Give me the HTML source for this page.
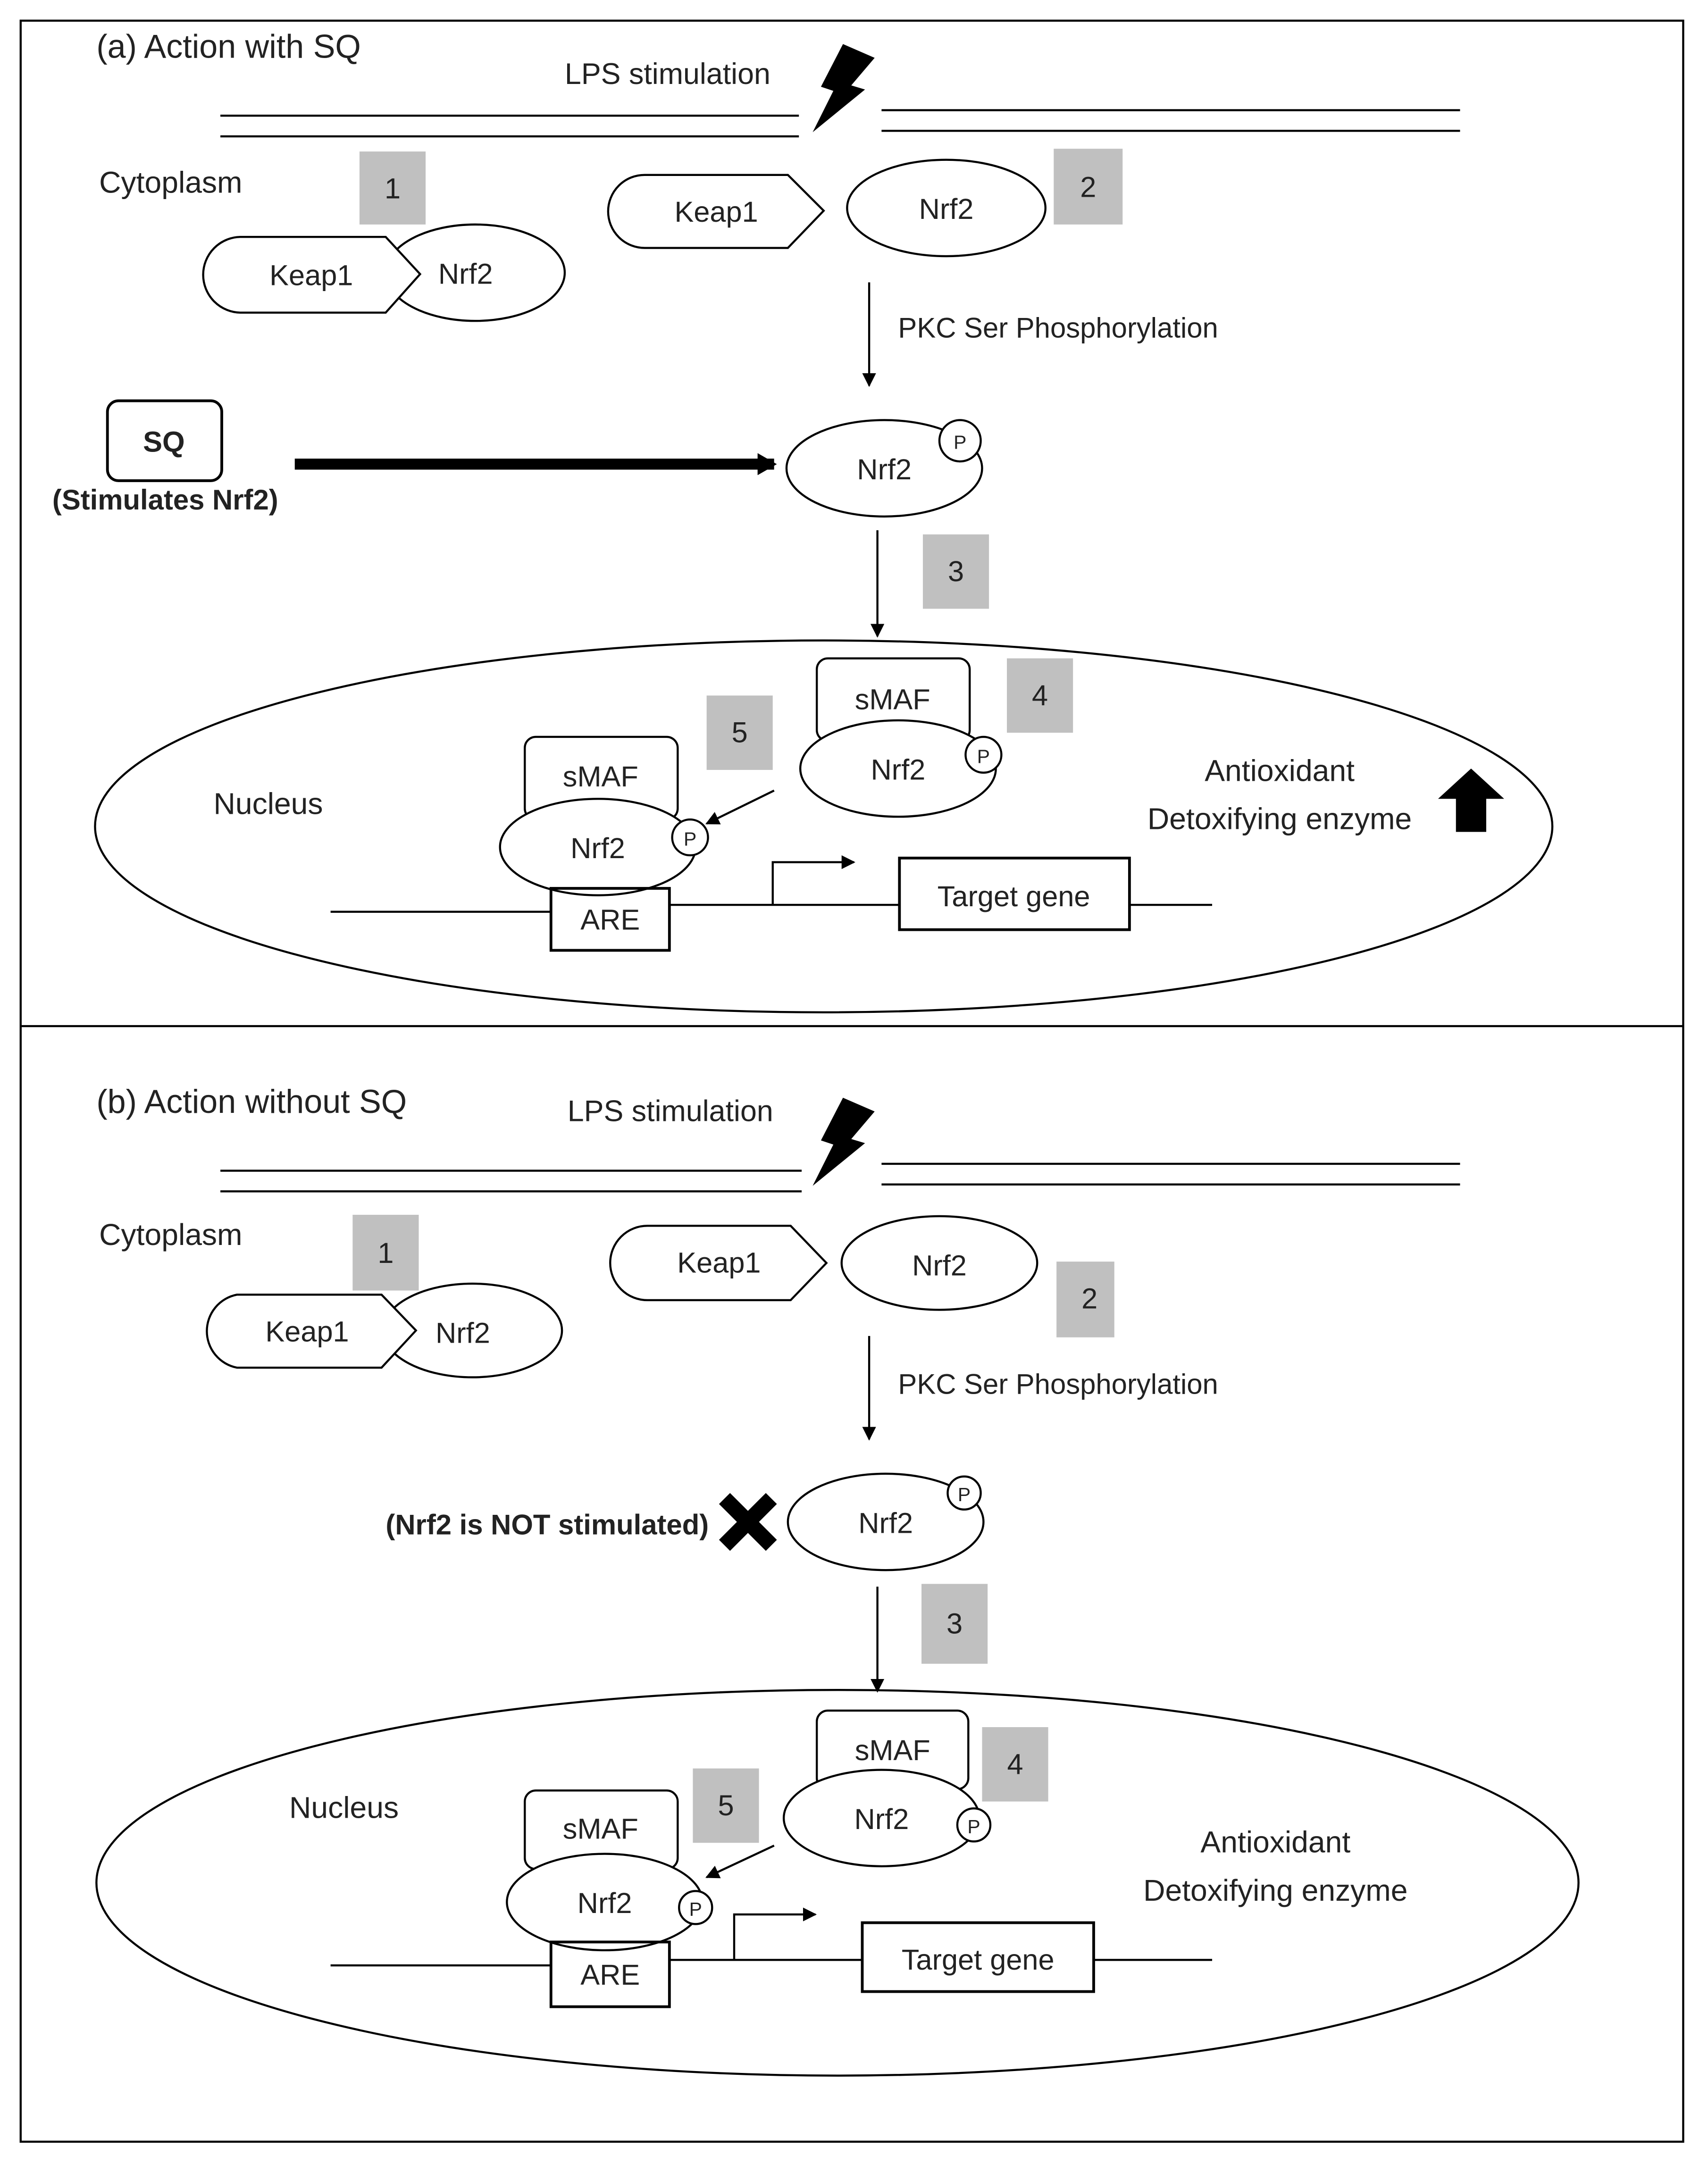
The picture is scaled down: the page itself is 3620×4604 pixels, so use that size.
<!DOCTYPE html>
<html><head><meta charset="utf-8"><style>
html,body{margin:0;padding:0;background:#fff}
svg{display:block}
text{font-family:"Liberation Sans",sans-serif;fill:#222}
</style></head><body>
<svg width="3620" height="4604" viewBox="0 0 1240 1577" preserveAspectRatio="none" xmlns="http://www.w3.org/2000/svg">
<defs>
<marker id="ah" markerWidth="10" markerHeight="10" refX="9" refY="5" orient="auto" markerUnits="userSpaceOnUse"><path d="M0,0 L10,5 L0,10 z" fill="#000"/></marker>
<marker id="ahb" markerWidth="14" markerHeight="16" refX="12" refY="8" orient="auto" markerUnits="userSpaceOnUse"><path d="M0,0 L14,8 L0,16 z" fill="#000"/></marker>
</defs>
<rect width="1240" height="1577" fill="#fff"/>
<rect x="15" y="15" width="1207" height="1540" fill="none" stroke="#000" stroke-width="1.5"/>
<line x1="15" y1="745" x2="1222" y2="745" stroke="#000" stroke-width="1.5"/>
<g fill="none" stroke="#000" stroke-width="1.5">
<line x1="160" y1="84" x2="580" y2="84"/><line x1="160" y1="99" x2="580" y2="99"/>
<line x1="640" y1="80" x2="1060" y2="80"/><line x1="640" y1="95" x2="1060" y2="95"/>
<ellipse cx="345" cy="198" rx="65" ry="35" fill="#fff"/>
<path d="M175,172 L280,172 L305,199 L280,227 L175,227 A27,27 0 0 1 175,172 z" fill="#fff"/>
<path d="M468,127 L572,127 L598,153 L572,180 L468,180 A26,26 0 0 1 468,127 z" fill="#fff"/>
<ellipse cx="687" cy="151" rx="72" ry="35" fill="#fff"/>
<line x1="631" y1="205" x2="631" y2="280" marker-end="url(#ah)"/>
<rect x="78" y="291" width="83" height="58" rx="8" stroke-width="2"/>
<line x1="214" y1="337" x2="562" y2="337" stroke-width="8" marker-end="url(#ahb)"/>
<ellipse cx="642" cy="340" rx="71" ry="35" fill="#fff"/>
<circle cx="697" cy="320" r="15" fill="#fff"/>
<line x1="637" y1="385" x2="637" y2="462" marker-end="url(#ah)"/>
<ellipse cx="598" cy="600" rx="529" ry="135"/>
<rect x="593" y="478" width="111" height="60" rx="8" fill="#fff"/>
<ellipse cx="652" cy="558" rx="71" ry="35" fill="#fff"/>
<circle cx="714" cy="548" r="13" fill="#fff"/>
<rect x="381" y="535" width="111" height="60" rx="8" fill="#fff"/>
<ellipse cx="434" cy="615" rx="71" ry="35" fill="#fff"/>
<circle cx="501" cy="608" r="13" fill="#fff"/>
<line x1="562" y1="574" x2="513" y2="598" marker-end="url(#ah)"/>
<line x1="240" y1="662" x2="400" y2="662"/>
<rect x="400" y="645" width="86" height="45" stroke-width="2"/>
<line x1="486" y1="657" x2="653" y2="657"/>
<rect x="653" y="623" width="167" height="52" stroke-width="2"/>
<line x1="820" y1="657" x2="880" y2="657"/>
<polyline points="561,657 561,626 620,626" marker-end="url(#ah)"/>
<line x1="160" y1="850" x2="582" y2="850"/><line x1="160" y1="865" x2="582" y2="865"/>
<line x1="640" y1="845" x2="1060" y2="845"/><line x1="640" y1="860" x2="1060" y2="860"/>
<ellipse cx="343" cy="966" rx="65" ry="34" fill="#fff"/>
<path d="M172,940 L277,940 L302,966 L277,993 L172,993 A27,27 0 0 1 172,940 z" fill="#fff"/>
<path d="M470,890 L574,890 L600,917 L574,944 L470,944 A27,27 0 0 1 470,890 z" fill="#fff"/>
<ellipse cx="682" cy="917" rx="71" ry="34" fill="#fff"/>
<line x1="631" y1="970" x2="631" y2="1045" marker-end="url(#ah)"/>
<ellipse cx="643" cy="1105" rx="71" ry="35" fill="#fff"/>
<circle cx="700" cy="1084" r="12" fill="#fff"/>
<line x1="637" y1="1152" x2="637" y2="1228" marker-end="url(#ah)"/>
<ellipse cx="608" cy="1367" rx="538" ry="140"/>
<rect x="593" y="1242" width="110" height="57" rx="8" fill="#fff"/>
<ellipse cx="640" cy="1320" rx="71" ry="35" fill="#fff"/>
<circle cx="707" cy="1325" r="12" fill="#fff"/>
<rect x="381" y="1300" width="111" height="57" rx="8" fill="#fff"/>
<ellipse cx="439" cy="1381" rx="71" ry="35" fill="#fff"/>
<circle cx="505" cy="1385" r="12" fill="#fff"/>
<line x1="562" y1="1340" x2="513" y2="1363" marker-end="url(#ah)"/>
<line x1="240" y1="1427" x2="400" y2="1427"/>
<rect x="400" y="1410" width="86" height="47" stroke-width="2"/>
<line x1="486" y1="1423" x2="626" y2="1423"/>
<rect x="626" y="1396" width="168" height="50" stroke-width="2"/>
<line x1="794" y1="1423" x2="880" y2="1423"/>
<polyline points="533,1423 533,1390 592,1390" marker-end="url(#ah)"/>
</g>
<path d="M612,32 L635,42 L618,62 L628,65 L590,96 L605,66 L596,63 z" fill="#000"/>
<path d="M612,797 L635,807 L618,827 L628,830 L590,861 L605,831 L596,828 z" fill="#000"/>
<g fill="#c0c0c0">
<rect x="261" y="110" width="48" height="53"/><rect x="765" y="108" width="50" height="55"/>
<rect x="670" y="388" width="48" height="54"/><rect x="731" y="478" width="48" height="54"/>
<rect x="513" y="505" width="48" height="54"/>
<rect x="256" y="882" width="48" height="55"/><rect x="767" y="916" width="42" height="55"/>
<rect x="669" y="1150" width="48" height="58"/><rect x="713" y="1254" width="48" height="54"/>
<rect x="503" y="1284" width="48" height="54"/>
</g>
<path d="M1068,558 L1092,580 L1079,580 L1079,604 L1057,604 L1057,580 L1044,580 z" fill="#000"/>
<path d="M522,1092 L530,1084 L543,1097 L556,1084 L564,1092 L551,1105 L564,1118 L556,1126 L543,1113 L530,1126 L522,1118 L535,1105 z" fill="#000"/>
<g font-size="21">
<text x="70" y="42" font-size="24">(a)  Action with SQ</text>
<text x="410" y="61" font-size="21.5">LPS stimulation</text>
<text x="72" y="140" font-size="22">Cytoplasm</text>
<text x="285" y="144" text-anchor="middle">1</text>
<text x="226" y="207" text-anchor="middle">Keap1</text>
<text x="338" y="206" text-anchor="middle">Nrf2</text>
<text x="520" y="161" text-anchor="middle">Keap1</text>
<text x="687" y="159" text-anchor="middle">Nrf2</text>
<text x="790" y="143" text-anchor="middle">2</text>
<text x="652" y="245" font-size="20.5">PKC Ser Phosphorylation</text>
<text x="119" y="328" text-anchor="middle" font-weight="bold">SQ</text>
<text x="38" y="370" font-size="20.5" font-weight="bold">(Stimulates Nrf2)</text>
<text x="642" y="348" text-anchor="middle">Nrf2</text>
<text x="697" y="326" text-anchor="middle" font-size="14">P</text>
<text x="694" y="422" text-anchor="middle">3</text>
<text x="648" y="515" text-anchor="middle">sMAF</text>
<text x="652" y="566" text-anchor="middle">Nrf2</text>
<text x="714" y="554" text-anchor="middle" font-size="14">P</text>
<text x="755" y="512" text-anchor="middle">4</text>
<text x="537" y="539" text-anchor="middle">5</text>
<text x="436" y="571" text-anchor="middle">sMAF</text>
<text x="434" y="623" text-anchor="middle">Nrf2</text>
<text x="501" y="614" text-anchor="middle" font-size="14">P</text>
<text x="443" y="675" text-anchor="middle">ARE</text>
<text x="736" y="658" text-anchor="middle">Target gene</text>
<text x="155" y="591" font-size="22">Nucleus</text>
<text x="929" y="567" text-anchor="middle" font-size="22">Antioxidant</text>
<text x="929" y="602" text-anchor="middle" font-size="22">Detoxifying enzyme</text>

<text x="70" y="808" font-size="24">(b)  Action without SQ</text>
<text x="412" y="814" font-size="21.5">LPS stimulation</text>
<text x="72" y="904" font-size="22">Cytoplasm</text>
<text x="280" y="917" text-anchor="middle">1</text>
<text x="223" y="974" text-anchor="middle">Keap1</text>
<text x="336" y="975" text-anchor="middle">Nrf2</text>
<text x="522" y="924" text-anchor="middle">Keap1</text>
<text x="682" y="926" text-anchor="middle">Nrf2</text>
<text x="791" y="950" text-anchor="middle">2</text>
<text x="652" y="1012" font-size="20.5">PKC Ser Phosphorylation</text>
<text x="280" y="1114" font-size="20.5" font-weight="bold">(Nrf2 is NOT stimulated)</text>
<text x="643" y="1113" text-anchor="middle">Nrf2</text>
<text x="700" y="1090" text-anchor="middle" font-size="14">P</text>
<text x="693" y="1186" text-anchor="middle">3</text>
<text x="648" y="1278" text-anchor="middle">sMAF</text>
<text x="640" y="1328" text-anchor="middle">Nrf2</text>
<text x="707" y="1331" text-anchor="middle" font-size="14">P</text>
<text x="737" y="1288" text-anchor="middle">4</text>
<text x="527" y="1318" text-anchor="middle">5</text>
<text x="436" y="1335" text-anchor="middle">sMAF</text>
<text x="439" y="1389" text-anchor="middle">Nrf2</text>
<text x="505" y="1391" text-anchor="middle" font-size="14">P</text>
<text x="443" y="1441" text-anchor="middle">ARE</text>
<text x="710" y="1430" text-anchor="middle">Target gene</text>
<text x="210" y="1320" font-size="22">Nucleus</text>
<text x="926" y="1345" text-anchor="middle" font-size="22">Antioxidant</text>
<text x="926" y="1380" text-anchor="middle" font-size="22">Detoxifying enzyme</text>
</g>
</svg>
</body></html>
